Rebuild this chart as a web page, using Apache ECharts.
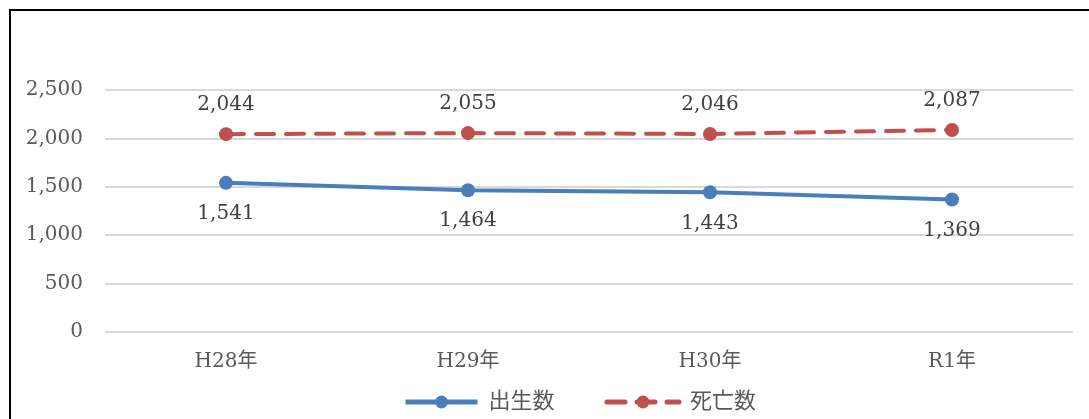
<!DOCTYPE html>
<html><head><meta charset="utf-8">
<script src="https://cdn.jsdelivr.net/npm/echarts@6/dist/echarts.min.js"></script>
<style>
html,body{margin:0;padding:0;background:#fff;overflow:hidden;}
#frame{position:absolute;left:9px;top:9px;width:1100px;height:430px;border:2px solid #000;box-sizing:border-box;}
#c{position:absolute;left:0;top:0;width:1089px;height:419px;}
</style></head>
<body>
<div id="frame"></div>
<div id="c"></div>
<script>
const categories = ['H28年','H29年','H30年','R1年'];
const births = [1541,1464,1443,1369];
const deaths = [2044,2055,2046,2087];
const seriesNames = ['出生数','死亡数'];

const font = '"DejaVu Serif","Liberation Serif","Noto Sans CJK JP",serif';
const chart = echarts.init(document.getElementById('c'));
chart.setOption({
  animation:false,
  grid:{left:105,right:16,top:90,bottom:87},
  legend:{
    data:seriesNames, bottom:1, left:398, itemWidth:72, itemHeight:16, itemGap:50,
    lineStyle:{width:5},
    textStyle:{fontFamily:font,fontSize:22,color:'#595959',padding:[0,0,0,6]}
  },
  xAxis:{
    type:'category', data:categories,
    axisLine:{show:false}, axisTick:{show:false},
    axisLabel:{fontFamily:font,fontSize:20,color:'#595959',margin:20}
  },
  yAxis:{
    type:'value', min:0, max:2500, interval:500,
    axisLine:{show:false}, axisTick:{show:false},
    splitLine:{lineStyle:{color:'#d9d9d9',width:2}},
    axisLabel:{fontFamily:font,fontSize:20,color:'#595959',margin:22,
      formatter:v=>v.toLocaleString('en-US')}
  },
  series:[
    {name:seriesNames[0],type:'line',data:births,symbol:'circle',symbolSize:14,
     itemStyle:{color:'#4a7ebb'},lineStyle:{width:4,color:'#4a7ebb'},
     label:{show:true,position:'bottom',distance:14,fontFamily:font,fontSize:20,color:'#404040',
       formatter:p=>p.value.toLocaleString('en-US')}},
    {name:seriesNames[1],type:'line',data:deaths,symbol:'circle',symbolSize:14,
     itemStyle:{color:'#c0504d'},lineStyle:{width:4,color:'#c0504d',type:[18,12],cap:'round'},
     label:{show:true,position:'top',distance:12,fontFamily:font,fontSize:20,color:'#404040',
       formatter:p=>p.value.toLocaleString('en-US')}}
  ]
});
</script>
</body></html>
